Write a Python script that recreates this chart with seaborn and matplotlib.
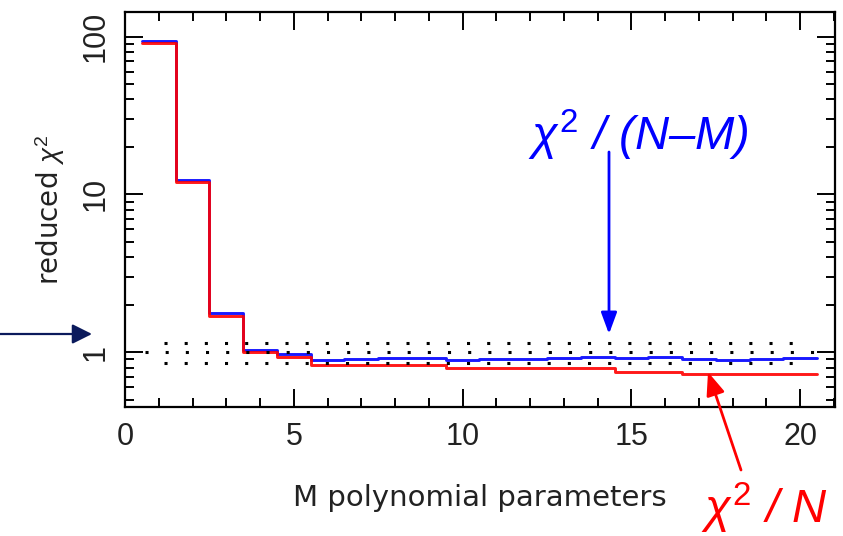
import numpy as np
import pandas as pd
import matplotlib
matplotlib.use("Agg")
import matplotlib.pyplot as plt
from matplotlib.ticker import FixedLocator, MultipleLocator, LogLocator, NullFormatter
import seaborn as sns

# ---- data ----
M = list(range(1, 21))
chi2_nm = [94, 12.4, 1.77, 1.04, 0.976, 0.897, 0.911, 0.915, 0.924, 0.889,
           0.902, 0.911, 0.920, 0.929, 0.920, 0.929, 0.906, 0.897, 0.911, 0.915]   # chi2/(N-M), blue
chi2_n = [91, 12.0, 1.70, 1.00, 0.930, 0.836, 0.834, 0.833, 0.832, 0.793,
          0.792, 0.792, 0.791, 0.790, 0.755, 0.755, 0.727, 0.727, 0.727, 0.726]    # chi2/N, red
ref_levels = [0.855, 1.0, 1.15]
x_ticks = [0, 5, 10, 15, 20]
y_ticks = [1, 10, 100]
y_ticklabels = ["1", "10", "100"]

sns.set_style("ticks")
plt.rcParams["font.family"] = ["Liberation Sans", "DejaVu Sans"]
plt.rcParams["mathtext.fontset"] = "custom"
plt.rcParams["mathtext.it"] = "Liberation Sans:italic"
plt.rcParams["mathtext.rm"] = "Liberation Sans"
plt.rcParams["text.color"] = "black"
plt.rcParams["axes.labelcolor"] = "black"
plt.rcParams["xtick.color"] = "black"
plt.rcParams["ytick.color"] = "black"

# step edges: each value spans M-0.5 .. M+0.5
rows = []
for name, vals in [("nm", chi2_nm), ("n", chi2_n)]:
    xs = [m - 0.5 for m in M] + [M[-1] + 0.5]
    ys = list(vals) + [vals[-1]]
    for x, y in zip(xs, ys):
        rows.append({"edge": x, "value": y, "series": name})
df = pd.DataFrame(rows)

W, H = 843, 536
fig = plt.figure(figsize=(W / 100, H / 100), dpi=100)
ax = fig.add_axes([125 / W, 1 - 407 / H, 710 / W, 395 / H])

sns.lineplot(data=df, x="edge", y="value", hue="series", hue_order=["nm", "n"],
             palette={"nm": "#0000ff", "n": "#ff0000"}, drawstyle="steps-post",
             linewidth=2.1, alpha=0.9, legend=False, ax=ax, sort=False,
             estimator=None)

ax.set_yscale("log")
ax.set_xlim(0, 21.03)
ax.set_ylim(0.45, 143)

# dotted reference levels
ax.hlines([ref_levels[0], ref_levels[2]], 1.15, 19.8, colors="black",
          linestyles=(0, (1, 5.6)), linewidth=2.2)
ax.hlines([ref_levels[1]], 0.6, 20.6, colors="black",
          linestyles=(0, (1, 5.6)), linewidth=2.2)

# ticks
ax.xaxis.set_major_locator(FixedLocator(x_ticks))
ax.xaxis.set_minor_locator(MultipleLocator(1))
ax.yaxis.set_major_locator(FixedLocator(y_ticks))
ax.set_yticklabels(y_ticklabels)
ax.yaxis.set_minor_locator(LogLocator(base=10, subs=np.arange(2, 10)))
ax.yaxis.set_minor_formatter(NullFormatter())
ax.tick_params(which="both", direction="in", top=True, right=True, width=1.4, color="black")
ax.tick_params(which="major", length=13)
ax.tick_params(which="minor", length=6.5)
ax.tick_params(axis="x", which="major", labelsize=22, pad=11, labelcolor="#222222")
ax.tick_params(axis="y", which="major", labelsize=22, pad=10, labelcolor="#222222")
for lab in ax.get_yticklabels():
    lab.set_rotation(90)
    lab.set_va("center")
for s in ax.spines.values():
    s.set_linewidth(1.6)
    s.set_color("black")

ax.set_xlabel("M polynomial parameters", fontsize=21, family=["DejaVu Sans"], color="#222222")
ax.xaxis.set_label_coords(0.5, (407 - 498) / 395)
ax.xaxis.label.set_va("center")
ax.set_ylabel(r"reduced $\chi^2$", fontsize=20, family=["DejaVu Sans"], color="#222222")
ax.yaxis.set_label_coords((50 - 125) / 710, 0.5)
ax.yaxis.label.set_va("center")
ax.yaxis.label.set_ha("center")

# annotations
fig.text(528 / W, 1 - 150 / H, r"$\chi^2$ / (N–M)", color="#0000ff", fontsize=34,
         style="italic", ha="left", va="baseline")
ax.annotate("", xy=(609 / W, 1 - 334 / H), xytext=(609 / W, 1 - 152 / H),
            xycoords="figure fraction", textcoords="figure fraction",
            arrowprops=dict(arrowstyle="-|>,head_length=0.65,head_width=0.24",
                            color="#0000ff", lw=2.0, mutation_scale=20,
                            shrinkA=0, shrinkB=0), annotation_clip=False)

fig.text(701 / W, 1 - 523 / H, r"$\chi^2$ / N", color="#ff0000", fontsize=34,
         style="italic", ha="left", va="baseline")
ax.annotate("", xy=(708 / W, 1 - 372 / H), xytext=(741 / W, 1 - 470 / H),
            xycoords="figure fraction", textcoords="figure fraction",
            arrowprops=dict(arrowstyle="-|>,head_length=0.7,head_width=0.28",
                            color="#ff0000", lw=2.0, mutation_scale=20,
                            shrinkA=0, shrinkB=0), annotation_clip=False)

ax.annotate("", xy=(92 / W, 1 - 334 / H), xytext=(0, 1 - 334 / H),
            xycoords="figure fraction", textcoords="figure fraction",
            arrowprops=dict(arrowstyle="-|>,head_length=0.6,head_width=0.3",
                            color="#0b1a5c", lw=1.6, mutation_scale=20,
                            shrinkA=0, shrinkB=0), annotation_clip=False)

fig.savefig("out.png", dpi=100)
